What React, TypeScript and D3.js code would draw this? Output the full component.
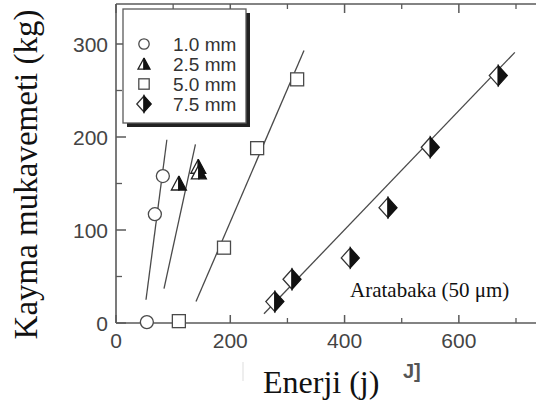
import React from "react";
import * as d3 from "d3";

const seriesNames = ["1.0 mm", "2.5 mm", "5.0 mm", "7.5 mm"];
const seriesShapes = ["circle", "triangle", "square", "diamond"];

const pts10 = [
  [54, 1],
  [68, 117],
  [82, 158],
];
const pts25 = [
  [110, 150],
  [144, 168],
  [145, 162],
];
const pts50 = [
  [110, 2],
  [189, 81],
  [247, 188],
  [317, 262],
];
const pts75 = [
  [278, 23],
  [308, 47],
  [410, 70],
  [476, 124],
  [550, 189],
  [669, 266],
];

const fit10 = [
  [52.5, 25],
  [89, 197],
];
const fit25 = [
  [84, 37],
  [139, 192],
];
const fit50 = [
  [140, 23],
  [329, 293],
];
const fit75 = [
  [259, 10],
  [698, 291],
];

const xMajor = [0, 200, 400, 600];
const xMinor = [100, 300, 500, 700];
const yMajor = [0, 100, 200, 300];
const yMinor = [50, 150, 250];

const xTitle = "Enerji (j)";
const yTitle = "Kayma mukavemeti (kg)";
const note = "Aratabaka (50 μm)";

const AX = "#5a5a5a";
const LN = "#4a4a4a";
const TXT = "#444";

function Marker({ shape, cx, cy, s = 1 }: { shape: string; cx: number; cy: number; s?: number }) {
  const sw = 1.3;
  if (shape === "circle") {
    return <circle cx={cx} cy={cy} r={6.5 * s} fill="#fff" stroke={LN} strokeWidth={sw} />;
  }
  if (shape === "square") {
    const h = 6.5 * s;
    return <rect x={cx - h} y={cy - h} width={2 * h} height={2 * h} fill="#fff" stroke={LN} strokeWidth={sw} />;
  }
  if (shape === "triangle") {
    const w = 7.5 * s;
    const top = cy - 7.5 * s;
    const bot = cy + 6.5 * s;
    return (
      <g>
        <path d={`M${cx},${top}L${cx - w},${bot}L${cx},${bot}Z`} fill="#fff" stroke="#222" strokeWidth={sw} />
        <path d={`M${cx},${top}L${cx + w},${bot}L${cx},${bot}Z`} fill="#111" stroke="#111" strokeWidth={sw} />
      </g>
    );
  }
  const w = 9 * s;
  const h = 10 * s;
  return (
    <g>
      <path d={`M${cx},${cy - h}L${cx - w},${cy}L${cx},${cy + h}Z`} fill="#fff" stroke="#333" strokeWidth={sw} />
      <path d={`M${cx},${cy - h}L${cx + w},${cy}L${cx},${cy + h}Z`} fill="#111" stroke="#111" strokeWidth={sw} />
    </g>
  );
}

export default function App() {
  const x = d3.scaleLinear().domain([0, 700]).range([116, 516]);
  const y = d3.scaleLinear().domain([0, 300]).range([323, 44]);
  const xLeft = x(0);
  const yBottom = y(0);
  const yTop = 4;
  const xRight = 536;

  const allPts = [pts10, pts25, pts50, pts75];
  const allFits = [fit10, fit25, fit50, fit75];
  const line = d3
    .line<number[]>()
    .x((d) => x(d[0]))
    .y((d) => y(d[1]));

  const sans = "'Liberation Sans', Arial, Helvetica, sans-serif";
  const serif = "'Liberation Serif', 'Times New Roman', serif";

  return (
    <svg width={536} height={412} style={{ position: "absolute", left: 0, top: 0, background: "#fff" }}>
      <rect x={0} y={0} width={536} height={412} fill="#fff" />
      {/* frame */}
      <line x1={xLeft} y1={yTop} x2={xLeft} y2={yBottom} stroke={AX} strokeWidth={1.6} />
      <line x1={xLeft} y1={yBottom} x2={xRight} y2={yBottom} stroke={AX} strokeWidth={1.6} />
      <line x1={xLeft} y1={yTop} x2={xRight} y2={yTop} stroke={AX} strokeWidth={1.4} />

      {/* y ticks */}
      {yMajor.map((v) => (
        <g key={"ym" + v}>
          <line x1={xLeft} x2={xLeft + 10} y1={y(v)} y2={y(v)} stroke={AX} strokeWidth={1.5} />
          <text x={108} y={y(v) + 8} textAnchor="end" fontFamily={sans} fontSize={21} fill={TXT}>
            {v}
          </text>
        </g>
      ))}
      {yMinor.map((v) => (
        <line key={"yn" + v} x1={xLeft} x2={xLeft + 6} y1={y(v)} y2={y(v)} stroke={AX} strokeWidth={1.3} />
      ))}

      {/* x ticks */}
      {xMajor.map((v) => (
        <g key={"xm" + v}>
          <line x1={x(v)} x2={x(v)} y1={yBottom} y2={yBottom - 8} stroke={AX} strokeWidth={1.5} />
          <line x1={x(v)} x2={x(v)} y1={yTop} y2={yTop + 9} stroke={AX} strokeWidth={1.5} />
          <text x={x(v)} y={348} textAnchor="middle" fontFamily={sans} fontSize={21} fill={TXT}>
            {v}
          </text>
        </g>
      ))}
      {xMinor.map((v) => (
        <g key={"xn" + v}>
          <line x1={x(v)} x2={x(v)} y1={yBottom} y2={yBottom - 5} stroke={AX} strokeWidth={1.3} />
          <line x1={x(v)} x2={x(v)} y1={yTop} y2={yTop + 5} stroke={AX} strokeWidth={1.3} />
        </g>
      ))}

      {/* fit lines */}
      {allFits.map((f, i) => (
        <path key={"f" + i} d={line(f) || ""} fill="none" stroke={LN} strokeWidth={1.3} />
      ))}

      {/* points */}
      {allPts.map((ps, i) =>
        ps.map((p, j) => <Marker key={i + "-" + j} shape={seriesShapes[i]} cx={x(p[0])} cy={y(p[1])} />)
      )}

      {/* legend */}
      <rect x={127} y={13} width={123} height={114} fill="#222" />
      <rect x={123} y={9} width={123} height={114} fill="#fff" stroke={AX} strokeWidth={1.3} />
      {seriesNames.map((n, i) => (
        <g key={"lg" + i}>
          <Marker shape={seriesShapes[i]} cx={144} cy={44 + i * 20} s={0.8} />
          <text x={173} y={51 + i * 20} fontFamily={sans} fontSize={19} fill="#333">
            {n}
          </text>
        </g>
      ))}

      {/* annotation */}
      <text x={350} y={297} fontFamily={serif} fontSize={21} fill="#111">
        {note}
      </text>

      {/* titles */}
      <text x={263} y={393} fontFamily={serif} fontSize={32} fill="#111">
        {xTitle}
      </text>
      <text
        transform={`translate(37,174.5) rotate(-90)`}
        textAnchor="middle"
        fontFamily={serif}
        fontSize={33}
        fill="#111"
      >
        {yTitle}
      </text>

      {/* remnants */}
      <text x={403} y={378} fontFamily={sans} fontSize={20} fontWeight="bold" fill="#555">
        J]
      </text>
      <line x1={243} x2={243} y1={362} y2={381} stroke="#ddd" strokeWidth={1} />
    </svg>
  );
}
